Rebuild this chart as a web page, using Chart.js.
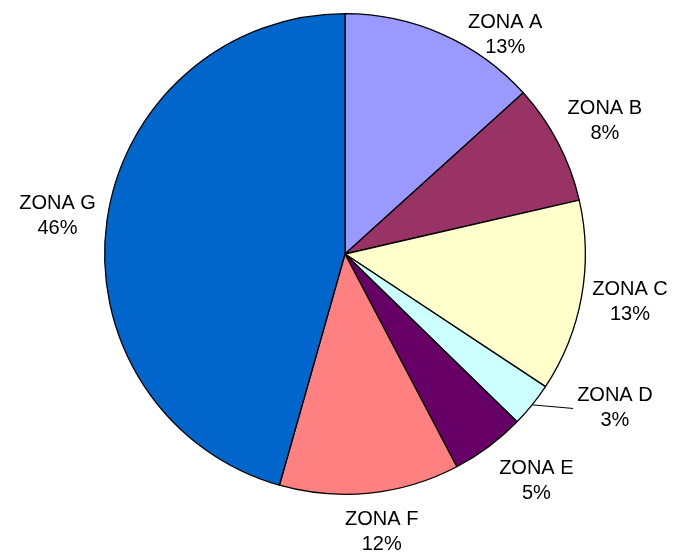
<!DOCTYPE html>
<html>
<head>
<meta charset="utf-8">
<script src="https://cdn.jsdelivr.net/npm/chart.js@4"></script>
<style>
  html, body { margin: 0; padding: 0; background: #fff; }
  #wrap { width: 675px; height: 553px; }
</style>
</head>
<body>
<div id="wrap"><canvas id="zonas" width="675" height="553"></canvas></div>
<script>
const zonas = ['ZONA A', 'ZONA B', 'ZONA C', 'ZONA D', 'ZONA E', 'ZONA F', 'ZONA G'];
const valores = [13.3, 8.1, 12.9, 3.0, 5.0, 12.1, 45.6];
const colores = ['#9999FF', '#993366', '#FFFFCC', '#CCFFFF', '#660066', '#FF8080', '#0066CC'];

// label placement tweaks (degrees off the slice middle, distance from centre)
const labelShift = [12.3, 0.4, -0.7, -9.1, -3.4, -1.6, -0.4];
const labelDist = [271, 292, 289, 311, 297, 280, 290];

const pieLabels = {
  id: 'pieLabels',
  afterDatasetsDraw(chart) {
    const ctx = chart.ctx;
    const meta = chart.getDatasetMeta(0);
    const total = valores.reduce((a, b) => a + b, 0);
    ctx.save();
    ctx.font = '20px "Liberation Sans", Arial, sans-serif';
    ctx.fillStyle = '#000';
    ctx.textAlign = 'center';
    ctx.textBaseline = 'middle';
    meta.data.forEach((arc, i) => {
      const mid = (arc.startAngle + arc.endAngle) / 2;
      const a = mid + labelShift[i] * Math.PI / 180;
      const cx = arc.x + Math.cos(a) * labelDist[i];
      const cy = arc.y + Math.sin(a) * labelDist[i];
      const pct = Math.round(valores[i] / total * 100) + '%';
      ctx.fillText(zonas[i], cx, cy - 12.5);
      ctx.fillText(pct, cx, cy + 12.5);
      // leader line for the small slice whose label was pushed aside
      if (i === 3) {
        const w = ctx.measureText(zonas[i]).width;
        ctx.beginPath();
        ctx.strokeStyle = '#000';
        ctx.lineWidth = 1;
        ctx.moveTo(arc.x + Math.cos(mid) * arc.outerRadius, arc.y + Math.sin(mid) * arc.outerRadius);
        ctx.lineTo(cx - w / 2 - 4, cy);
        ctx.stroke();
      }
    });
    ctx.restore();
  }
};

new Chart(document.getElementById('zonas'), {
  type: 'pie',
  data: {
    labels: zonas,
    datasets: [{
      data: valores,
      backgroundColor: colores,
      borderColor: '#000',
      borderWidth: 1.3,
    }],
  },
  options: {
    responsive: false,
    animation: false,
    layout: { padding: { left: 104, right: 89, top: 12, bottom: 57 } },
    plugins: {
      legend: { display: false },
      tooltip: { enabled: false },
    },
  },
  plugins: [pieLabels],
});
</script>
</body>
</html>
